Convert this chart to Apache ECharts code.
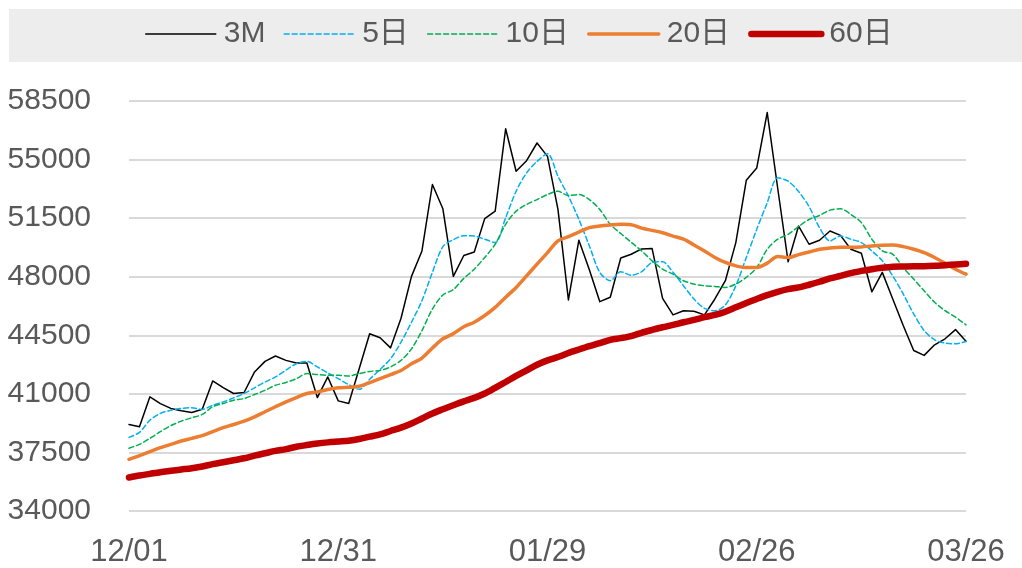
<!DOCTYPE html>
<html>
<head>
<meta charset="utf-8">
<script src="https://cdn.jsdelivr.net/npm/echarts@6/dist/echarts.min.js"></script>
<style>
    body { margin: 0; background: #fff; }
    #ma-chart { width: 1022px; height: 568px; }
</style>
</head>
<body>
<div id="ma-chart"></div>
<script>
var dates = [
    '12/01', '12/02', '12/03', '12/04', '12/05', '12/08', '12/09', '12/10', '12/11', '12/12',
    '12/15', '12/16', '12/17', '12/18', '12/19', '12/22', '12/23', '12/24', '12/29', '12/30',
    '12/31', '01/02', '01/05', '01/06', '01/07', '01/08', '01/09', '01/12', '01/13', '01/14',
    '01/15', '01/16', '01/19', '01/20', '01/21', '01/22', '01/23', '01/26', '01/27', '01/28',
    '01/29', '01/30', '02/02', '02/03', '02/04', '02/05', '02/06', '02/09', '02/10', '02/11',
    '02/12', '02/13', '02/16', '02/17', '02/18', '02/19', '02/20', '02/23', '02/24', '02/25',
    '02/26', '02/27', '03/02', '03/03', '03/04', '03/05', '03/06', '03/09', '03/10', '03/11',
    '03/12', '03/13', '03/16', '03/17', '03/18', '03/19', '03/20', '03/23', '03/24', '03/25',
    '03/26'
];

var price3M = [
    39170, 39040, 40820, 40420, 40130, 39990, 39890, 40080, 41770, 41370,
    41020, 41080, 42310, 42940, 43260, 43000, 42840, 42840, 40780, 42010,
    40580, 40420, 42500, 44590, 44350, 43750, 45520, 48020, 49540, 53510,
    52060, 48020, 49270, 49480, 51470, 51920, 56840, 54300, 54930, 55990,
    55190, 52020, 46610, 50180, 48410, 46510, 46770, 49120, 49340, 49660,
    49680, 46710, 45720, 45970, 45940, 45720, 46670, 47760, 50040, 53760,
    54500, 57810, 53300, 48890, 51030, 49940, 50180, 50730, 50470, 49640,
    49400, 47100, 48260, 46670, 45080, 43590, 43300, 43930, 44290, 44840,
    44150
];

var ma5 = [
    38400, 38700, 39430, 39830, 40020, 40130, 40170, 40070, 40320, 40520,
    40760, 41020, 41360, 41710, 42010, 42420, 42800, 42940, 42610, 42250,
    41910, 41550, 41270, 41870, 42460, 43100, 44090, 45280, 46570, 48260,
    49800, 50210, 50450, 50430, 50240, 50040, 51530, 53110, 54200, 54890,
    55350, 54000, 52810, 51430, 49840, 48260, 47760, 48300, 48090, 48300,
    48850, 48890, 48260, 47460, 46670, 46110, 45970, 46310, 47460, 49150,
    50830, 52420, 53910, 53710, 53090, 52190, 50930, 50140, 50430, 50240,
    50040, 49540, 48950, 48050, 46970, 45780, 44780, 44230, 44030, 43990,
    44130
];

var ma10 = [
    37750, 37980, 38340, 38740, 39100, 39370, 39570, 39770, 40230, 40420,
    40620, 40720, 40960, 41210, 41510, 41680, 41910, 42210, 42150, 42110,
    42110, 42070, 42210, 42340, 42400, 42610, 43000, 43690, 44780, 46070,
    46910, 47230, 47900, 48450, 49150, 49940, 51130, 51920, 52320, 52610,
    52910, 53110, 52850, 52910, 52610, 52020, 51130, 50580, 50060, 49540,
    48950, 48450, 48150, 47760, 47560, 47460, 47420, 47360, 47560, 47960,
    48550, 49640, 50240, 50530, 51000, 51420, 51660, 51980, 52060, 51720,
    51230, 50240, 49540, 49340, 48550, 47860, 47160, 46470, 45970, 45580,
    45120
];

var ma20 = [
    37090, 37310, 37550, 37790, 37980, 38180, 38340, 38500, 38740, 38980,
    39170, 39370, 39630, 39930, 40230, 40520, 40780, 41020, 41120, 41260,
    41360, 41390, 41450, 41670, 41910, 42150, 42400, 42800, 43140, 43740,
    44290, 44600, 45010, 45280, 45680, 46170, 46770, 47360, 48050, 48750,
    49440, 50140, 50400, 50670, 50930, 51030, 51090, 51130, 51110, 50900,
    50770, 50630, 50430, 50240, 49900, 49540, 49150, 48850, 48650, 48550,
    48550, 48810, 49210, 49150, 49320, 49480, 49640, 49720, 49760, 49760,
    49780, 49840, 49880, 49900, 49800, 49640, 49440, 49150, 48810, 48450,
    48150
];

var ma60 = [
    36000, 36120, 36220, 36320, 36400, 36480, 36560, 36660, 36800, 36910,
    37030, 37150, 37310, 37450, 37590, 37700, 37840, 37940, 38030, 38100,
    38150, 38200, 38300, 38440, 38580, 38780, 38980, 39230, 39530, 39830,
    40080, 40320, 40550, 40760, 41020, 41360, 41710, 42070, 42400, 42740,
    43000, 43200, 43440, 43650, 43850, 44030, 44230, 44330, 44450, 44650,
    44820, 44980, 45120, 45280, 45420, 45580, 45720, 45910, 46170, 46430,
    46670, 46900, 47100, 47260, 47360, 47520, 47700, 47900, 48050, 48210,
    48350, 48450, 48530, 48590, 48610, 48630, 48630, 48650, 48690, 48730,
    48770
];

var yTicks = [34000, 37500, 41000, 44500, 48000, 51500, 55000, 58500];

var textColor = '#595959';
var fontFamily = "'Liberation Sans', Arial, 'Noto Sans CJK SC', sans-serif";

var maChart = echarts.init(document.getElementById('ma-chart'));

// name, data, colour, width, dashed, smooth
var seriesDefs = [
    ['3M', price3M, '#000000', 1.5, false, false],
    ['5日', ma5, '#00B0F0', 1.5, true, 0.3],
    ['10日', ma10, '#00B050', 1.5, true, 0.3],
    ['20日', ma20, '#ED7D31', 3.5, false, 0.3],
    ['60日', ma60, '#C00000', 6.5, false, 0.3]
];

function lineStyleOf(def) {
    return {
        color: def[2],
        width: def[3],
        type: def[4] ? [5, 3] : 'solid',
        cap: 'round',
        join: 'round'
    };
}

function genOption() {
    var series = [];
    var legendData = [];
    for (var i = 0; i < seriesDefs.length; i++) {
        var def = seriesDefs[i];
        series.push({
            name: def[0],
            type: 'line',
            data: def[1],
            symbol: 'none',
            smooth: def[5],
            lineStyle: lineStyleOf(def),
            itemStyle: { color: def[2] }
        });
        legendData.push({
            name: def[0],
            lineStyle: lineStyleOf(def),
            itemStyle: { opacity: 0 }
        });
    }

    return {
        animation: false,
        graphic: [{
            type: 'rect',
            left: 9,
            top: 9,
            silent: true,
            shape: { width: 1013, height: 53 },
            style: { fill: '#EDEDED' }
        }],
        legend: {
            left: 145,
            top: 19,
            padding: 0,
            itemWidth: 70,
            itemHeight: 14,
            itemGap: 18,
            itemStyle: { opacity: 0 },
            textStyle: {
                fontSize: 30,
                color: textColor,
                fontFamily: fontFamily,
                padding: [0, 0, 0, 3]
            },
            data: legendData
        },
        grid: {
            left: 129,
            right: 56,
            top: 101,
            bottom: 55
        },
        xAxis: {
            type: 'category',
            data: dates,
            boundaryGap: false,
            axisLine: { show: false },
            axisTick: { show: false },
            axisLabel: {
                interval: 19,
                margin: 26,
                fontSize: 31,
                color: textColor,
                fontFamily: fontFamily
            }
        },
        yAxis: {
            type: 'value',
            min: yTicks[0],
            max: yTicks[yTicks.length - 1],
            interval: 3500,
            axisLine: { show: false },
            axisTick: { show: false },
            axisLabel: {
                margin: 38,
                fontSize: 30,
                color: textColor,
                fontFamily: fontFamily,
                formatter: function (v) { return String(v); }
            },
            splitLine: {
                lineStyle: { color: '#D9D9D9', width: 2 }
            }
        },
        series: series
    };
}

maChart.setOption(genOption());
</script>
</body>
</html>
